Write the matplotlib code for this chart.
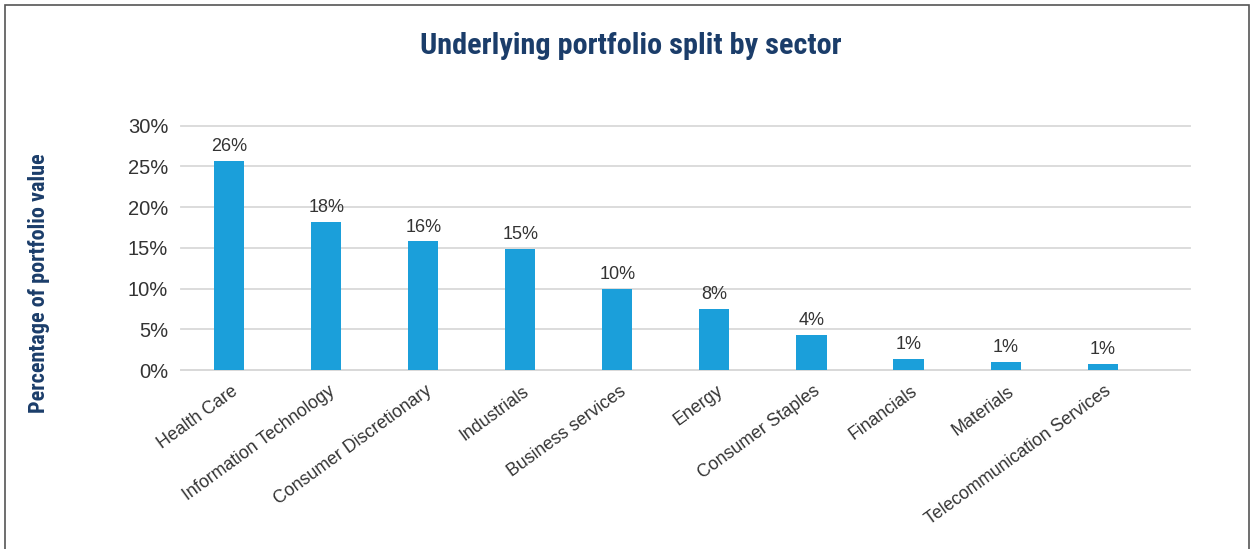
import matplotlib
matplotlib.use('Agg')
import matplotlib.pyplot as plt
from matplotlib.patches import Rectangle
import numpy as np

sectors = ['Health Care', 'Information Technology', 'Consumer Discretionary',
           'Industrials', 'Business services', 'Energy', 'Consumer Staples',
           'Financials', 'Materials', 'Telecommunication Services']
weights = [25.7, 18.2, 15.8, 14.9, 10.0, 7.5, 4.3, 1.4, 1.0, 0.8]
yticks = [0, 5, 10, 15, 20, 25, 30]

plt.rcParams['font.family'] = ['Liberation Sans', 'DejaVu Sans']
head_font = ['Roboto Condensed', 'DejaVu Sans']

bar_col = '#1B9FDA'
navy = '#1B3D6A'
txt_col = '#333333'
grid_col = '#D9D9D9'

fig = plt.figure(figsize=(12.53, 5.49), dpi=100)
ax = fig.add_axes([0.1442, 0.326, 0.8055, 0.445])

x = np.arange(len(sectors))
bars = ax.bar(x, weights, width=0.31, color=bar_col, zorder=3)

# data labels
for b, v in zip(bars, weights):
    ax.annotate(f'{v:.0f}%', (b.get_x() + b.get_width() / 2, v),
                xytext=(0, 4), textcoords='offset points',
                ha='center', va='bottom', fontsize=13, color=txt_col)

ax.set_ylim(0, 30)
ax.set_xlim(-0.5, 9.9)
ax.set_yticks(yticks)
ax.set_yticklabels([f'{t}%' for t in yticks], fontsize=14.5, color=txt_col)
# rotated labels end slightly right of the bar centre in the original
ax.set_xticks(x + 0.07)
ax.set_xticklabels(sectors, rotation=36, ha='right', va='center',
                   rotation_mode='anchor', fontsize=12.8, color=txt_col)
ax.tick_params(axis='both', length=0)
ax.tick_params(axis='x', pad=14)
ax.tick_params(axis='y', pad=9)
ax.grid(axis='y', color=grid_col, linewidth=1.3, zorder=0)
for gl in ax.get_ygridlines():
    gl.set_clip_on(False)
for s in ['top', 'right', 'left']:
    ax.spines[s].set_visible(False)
ax.spines['bottom'].set_color(grid_col)
ax.spines['bottom'].set_linewidth(1.3)

fig.text(0.0315, 0.4845, 'Percentage of portfolio value', rotation=90,
         ha='center', va='center', fontsize=16, fontweight='bold', color=navy,
         family=head_font)
fig.text(0.5035, 0.917, 'Underlying portfolio split by sector',
         ha='center', va='center', fontsize=21.8, fontweight='bold', color=navy,
         family=head_font)

# outer frame
fig.patches.append(Rectangle((0.004, -0.05), 0.993, 1.041, transform=fig.transFigure,
                             fill=False, edgecolor='#555555', linewidth=1.2))

plt.savefig('out.png', dpi=100)
